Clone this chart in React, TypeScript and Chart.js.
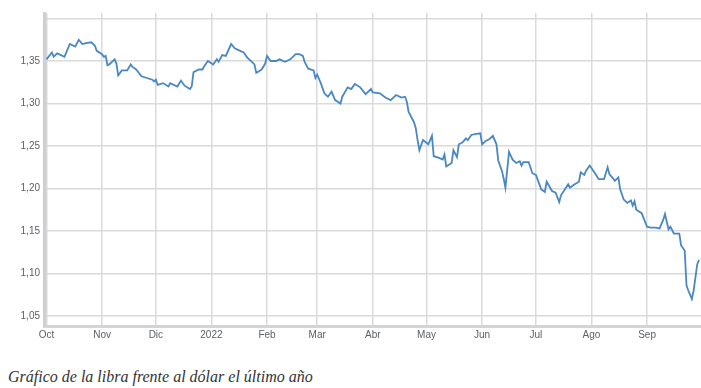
import React, { useEffect, useRef } from "react";
import { Chart, registerables } from "chart.js";

Chart.register(...registerables);

// Day offset counted from 1 Oct 2021
const days = [
  0, 3, 4, 6, 10, 13, 16, 18, 20, 22, 25, 27, 28, 31, 32, 33, 34, 35, 38, 39,
  40, 42, 45, 47, 48, 50, 53, 56, 59, 60, 61, 62, 65, 68, 69, 73, 75, 77, 80, 81,
  82, 85, 87, 88, 90, 93, 95, 96, 98, 100, 103, 105, 108, 110, 112, 115, 116, 117, 120, 122,
  123, 125, 128, 130, 133, 136, 139, 141, 143, 144, 146, 149, 150, 151, 153, 155, 157, 159, 161, 164,
  165, 168, 170, 172, 175, 178, 181, 182, 186, 189, 192, 195, 198, 200, 201, 202, 205, 206, 207, 208,
  210, 213, 215, 216, 219, 221, 222, 223, 226, 227, 229, 230, 232, 234, 235, 237, 239, 242, 243, 245,
  247, 249, 251, 252, 254, 255, 256, 258, 260, 262, 264, 265, 266, 269, 271, 273, 276, 278, 279, 282,
  284, 286, 287, 291, 292, 294, 297, 298, 300, 301, 303, 305, 306, 308, 311, 313, 314, 316, 317, 319,
  320, 322, 324, 326, 327, 328, 329, 332, 335, 337, 340, 342, 344, 345, 347, 348, 350, 353, 354, 356,
  357, 358, 360, 361, 363, 364,
];

// GBP/USD rate
const rates = [
  1.352, 1.360, 1.355, 1.359, 1.355, 1.370, 1.367, 1.375, 1.370, 1.371, 1.372, 1.368, 1.362, 1.358, 1.355, 1.356, 1.345, 1.346, 1.352, 1.347,
  1.333, 1.339, 1.339, 1.346, 1.343, 1.340, 1.332, 1.330, 1.328, 1.326, 1.328, 1.322, 1.324, 1.320, 1.324, 1.320, 1.327, 1.321, 1.317, 1.320,
  1.337, 1.340, 1.340, 1.344, 1.350, 1.346, 1.352, 1.349, 1.357, 1.356, 1.370, 1.365, 1.362, 1.360, 1.354, 1.348, 1.346, 1.336, 1.340, 1.347,
  1.356, 1.350, 1.350, 1.352, 1.349, 1.352, 1.358, 1.358, 1.356, 1.349, 1.341, 1.339, 1.330, 1.334, 1.324, 1.312, 1.308, 1.314, 1.304, 1.300,
  1.308, 1.319, 1.317, 1.323, 1.319, 1.311, 1.317, 1.313, 1.312, 1.307, 1.304, 1.310, 1.307, 1.308, 1.302, 1.290, 1.278, 1.271, 1.257, 1.245,
  1.257, 1.252, 1.262, 1.238, 1.236, 1.234, 1.240, 1.226, 1.230, 1.245, 1.237, 1.252, 1.254, 1.259, 1.257, 1.263, 1.264, 1.265, 1.252, 1.256,
  1.258, 1.262, 1.252, 1.233, 1.221, 1.212, 1.201, 1.243, 1.234, 1.230, 1.232, 1.227, 1.231, 1.231, 1.218, 1.216, 1.199, 1.196, 1.208, 1.197,
  1.195, 1.184, 1.192, 1.205, 1.201, 1.204, 1.208, 1.219, 1.216, 1.221, 1.227, 1.221, 1.218, 1.211, 1.211, 1.225, 1.217, 1.212, 1.209, 1.213,
  1.199, 1.187, 1.183, 1.186, 1.180, 1.185, 1.175, 1.171, 1.155, 1.154, 1.154, 1.153, 1.163, 1.170, 1.152, 1.155, 1.147, 1.147, 1.133, 1.127,
  1.086, 1.080, 1.070, 1.080, 1.111, 1.116,
];

const monthTicks = [0, 31, 61, 92, 123, 151, 182, 212, 243, 273, 304, 335];
const monthLabels = ["Oct", "Nov", "Dic", "2022", "Feb", "Mar", "Abr", "May", "Jun", "Jul", "Ago", "Sep"];
const yTicks = [1.05, 1.1, 1.15, 1.2, 1.25, 1.3, 1.35, 1.4];
const yLabelled = [1.05, 1.1, 1.15, 1.2, 1.25, 1.3, 1.35];
const caption = "Gráfico de la libra frente al dólar el último año";

export default function App() {
  const ref = useRef<HTMLCanvasElement>(null);

  useEffect(() => {
    if (!ref.current) return;
    const tickFont = { family: "'Liberation Sans', Arial, sans-serif", size: 10 };
    const chart = new Chart(ref.current, {
      type: "line",
      data: {
        datasets: [
          {
            data: days.map((d, i) => ({ x: d, y: rates[i] })),
            borderColor: "#4a87c3",
            borderWidth: 1.8,
            pointRadius: 0,
            fill: false,
            tension: 0,
          },
        ],
      },
      options: {
        animation: false,
        responsive: false,
        maintainAspectRatio: false,
        layout: { padding: { top: 13, right: 0, left: 0, bottom: 0 } },
        plugins: { legend: { display: false }, tooltip: { enabled: false } },
        scales: {
          x: {
            type: "linear",
            min: -1.4,
            max: 365.1,
            afterBuildTicks: (s: any) => {
              s.ticks = monthTicks.map((v) => ({ value: v }));
            },
            afterFit: (s: any) => {
              s.height = 19;
            },
            ticks: {
              autoSkip: false,
              maxRotation: 0,
              padding: 3,
              font: tickFont,
              color: "#5b6168",
              callback: (v: any) => {
                const i = monthTicks.indexOf(Number(v));
                return i >= 0 ? monthLabels[i] : "";
              },
            },
            grid: { color: "#dadada", lineWidth: 1.5, drawTicks: false },
            border: { color: "#d4d4d4", width: 3 },
          },
          y: {
            type: "linear",
            min: 1.0382,
            max: 1.4065,
            afterBuildTicks: (s: any) => {
              s.ticks = yTicks.map((v) => ({ value: v }));
            },
            afterFit: (s: any) => {
              s.width = 44;
            },
            ticks: {
              padding: 4,
              font: tickFont,
              color: "#5b6168",
              callback: (v: any) => {
                const n = Number(v);
                return yLabelled.some((t) => Math.abs(t - n) < 1e-6) ? n.toFixed(2).replace(".", ",") : "";
              },
            },
            grid: { color: "#dadada", lineWidth: 1.5, drawTicks: false },
            border: { color: "#cfcfcf", width: 3 },
          },
        },
      },
    });
    return () => chart.destroy();
  }, []);

  return (
    <div style={{ position: "absolute", left: 0, top: 0, width: 701, height: 388, background: "#fff" }}>
      <canvas ref={ref} width={701} height={345} style={{ display: "block", width: 701, height: 345 }} />
      <div
        style={{
          position: "absolute",
          left: 8,
          top: 367,
          fontFamily: "'Liberation Serif', 'Times New Roman', serif",
          fontStyle: "italic",
          fontSize: 16,
          lineHeight: "19px",
          color: "#333",
          whiteSpace: "nowrap",
        }}
      >
        {caption}
      </div>
    </div>
  );
}
